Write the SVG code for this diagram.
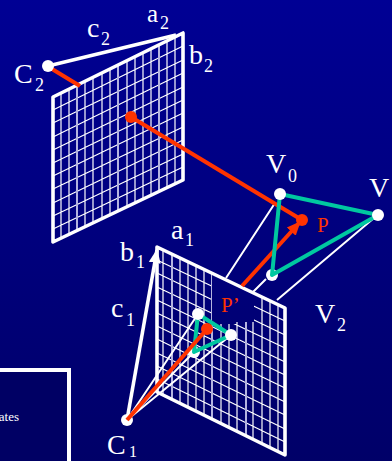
<svg xmlns="http://www.w3.org/2000/svg" width="392" height="461" viewBox="0 0 392 461">
<style>
text{font-family:"Liberation Serif","Times New Roman",serif;fill:#fff}
.l{font-size:28px}.s{font-size:18px}
.grid{fill:none;stroke:#fff;stroke-width:1.2}
.soft{fill:none;stroke:#b4b4e0;stroke-width:2}
.edge{fill:none;stroke:#fff;stroke-width:3.6;stroke-linejoin:round}
.thin{fill:none;stroke:#fff;stroke-width:2}
.tri{fill:none;stroke:#00c8a0;stroke-width:4;stroke-linejoin:round}
.red{fill:none;stroke:#ff3300;stroke-width:4}
.wd{fill:#fff}.rd{fill:#ff3300}
.rt{fill:#ff3300;font-size:21px}
</style>
<defs>
<linearGradient id="bg" gradientUnits="userSpaceOnUse" x1="0" y1="0" x2="0" y2="461">
<stop offset="0" stop-color="#000094"/><stop offset="1" stop-color="#000068"/>
</linearGradient>
<marker id="ah" markerUnits="userSpaceOnUse" markerWidth="16" markerHeight="14" refX="13" refY="7" orient="auto"><path d="M0 1L14 7L0 13z" fill="#fff"/></marker>
<marker id="ar" markerUnits="userSpaceOnUse" markerWidth="16" markerHeight="14" refX="13" refY="7" orient="auto"><path d="M0 1L14 7L0 13z" fill="#ff3300"/></marker>
</defs>
<rect width="392" height="461" fill="url(#bg)"/>
<g id="legend"><rect x="-6" y="370" width="75" height="100" fill="#000064" stroke="#fff" stroke-width="4"/><text x="-1.2" y="421" font-size="13">ates</text></g>
<g id="plane2">
<path class="grid" d="M61 93V238M69 89V234M85 81V227M93 77V223M102 73V219M110 69V215M127 61V207M135 57V203M143 53V199M151 49V195M167 41V188M175 37V184M53 110L183 46M53 123L183 60M53 137L183 73M53 150L183 87M53 163L183 100M53 176L183 113M53 189L183 127M53 203L183 140M53 216L183 154M53 229L183 167"/>
<path class="soft" d="M77 85V231M118 65V211M159 45V191"/>
<path class="edge" d="M53 97L183 33V180L53 242Z"/>
</g>
<g id="plane1">
<path class="grid" d="M163 250V395M180 258V403M188 262V407M196 266V411M204 269V415M221 278V423M229 281V427M237 285V431M253 293V439M262 297V444M270 301V448M278 305V452M157 260L285 321M157 273L285 335M157 287L285 348M157 300L285 362M157 313L285 375M157 326L285 388M157 339L285 402M157 353L285 415M157 366L285 429M157 379L285 442"/>
<path class="soft" d="M172 254V399M212 273V419M246 289V436"/>
<polygon points="212,272 254,292 254,322 236,322 236,324 212,324" fill="url(#bg)"/>
<path class="edge" d="M157 247L285 308V455L157 392Z"/>
</g>
<g id="V2"><circle class="wd" cx="272" cy="275" r="6"/><text class="l" x="315" y="323">V</text><text class="s" x="337" y="331">2</text></g>
<g id="c3"><circle class="wd" cx="194" cy="352" r="6"/></g>
<g id="connectors">
<path class="thin" d="M275 203L226 278M266 279L253 292M374 218L277 300M127 420L198 314M127 420L231 335M127 420L194 352"/>
<path class="edge" d="M127 420L157 250" marker-end="url(#ah)"/>
<path class="edge" d="M48 66L176 35"/>
<path class="red" d="M52 69L80 86"/>
<path class="red" d="M131 117L302 220"/>
<path class="red" d="M242 286L300 222" marker-end="url(#ar)"/>
<path class="tri" d="M280 194L378 215L272 275Z"/>
<path class="tri" d="M198 314L231 335L194 352Z"/>
</g>
<g id="C2"><circle class="wd" cx="48" cy="66" r="6"/><text class="l" x="14" y="83">C</text><text class="s" x="35" y="91">2</text></g>
<g id="a2"><text x="147" y="22" font-size="25">a</text><text class="s" x="160" y="29">2</text></g>
<g id="c2"><text class="l" x="87" y="37">c</text><text class="s" x="101" y="45">2</text></g>
<g id="b2"><text class="l" x="189" y="64">b</text><text class="s" x="204" y="72">2</text></g>
<g id="Q"><circle class="rd" cx="131" cy="117" r="6"/></g>
<g id="V0"><circle class="wd" cx="280" cy="194" r="6"/><text class="l" x="266" y="173">V</text><text class="s" x="288" y="182">0</text></g>
<g id="V1"><circle class="wd" cx="378" cy="215" r="6"/><text class="l" x="369" y="197">V</text></g>
<g id="P"><circle class="rd" cx="302" cy="220" r="6"/><text class="rt" x="317" y="232">P</text></g>
<g id="Pp"><text class="rt" x="221" y="312">P’</text></g>
<g id="a1"><text class="l" x="171" y="239">a</text><text class="s" x="185" y="246">1</text></g>
<g id="b1"><text class="l" x="120" y="261">b</text><text class="s" x="136" y="268">1</text></g>
<g id="c1"><text class="l" x="111" y="317">c</text><text class="s" x="126" y="326">1</text></g>
<g id="small"><circle class="wd" cx="198" cy="314" r="6"/><circle class="wd" cx="231" cy="335" r="6"/></g>
<g id="C1"><circle class="wd" cx="127" cy="420" r="6"/><text class="l" x="107" y="454">C</text><text x="129" y="457" font-size="16">1</text></g>
<g id="Pi"><path class="red" d="M127 420L207 329"/><circle class="rd" cx="207" cy="329" r="6"/></g>
</svg>
